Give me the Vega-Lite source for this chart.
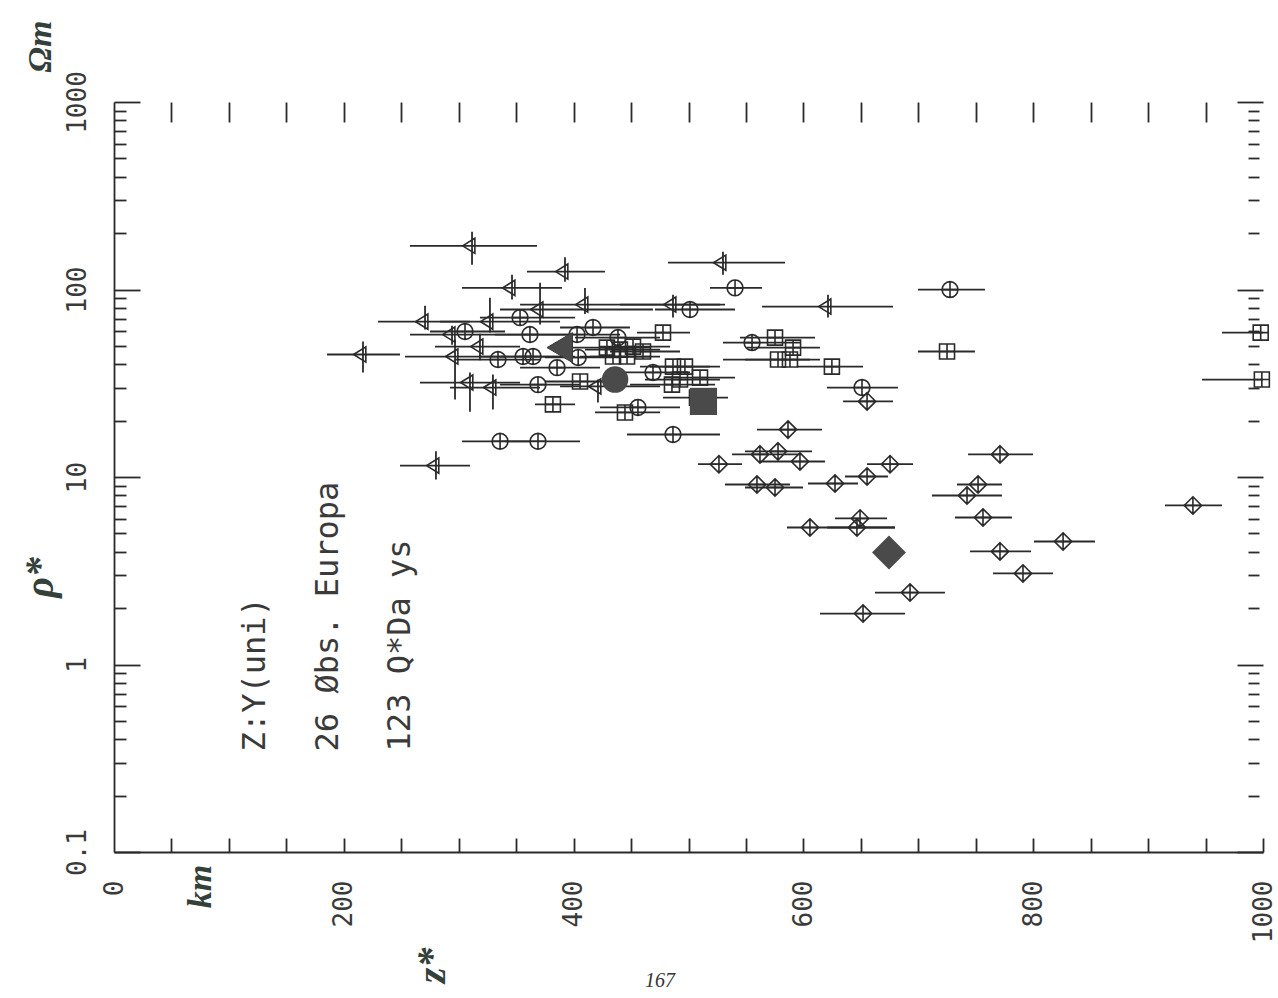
{
  "$schema": "https://vega.github.io/schema/vega-lite/v6.json",
  "width": 1149,
  "height": 750,
  "autosize": {"type": "none"},
  "padding": {"left": 114, "top": 102, "right": 15, "bottom": 146},
  "background": "white",
  "config": {
    "view": {"stroke": null},
    "axis": {
      "grid": false,
      "labelFont": "DejaVu Sans Mono",
      "labelFontSize": 26,
      "labelColor": "#3a3a3a",
      "labelFlush": false,
      "labelOverlap": false,
      "labelBound": false,
      "domainColor": "#2a2a2a",
      "domainWidth": 1.8,
      "tickColor": "#2a2a2a",
      "tickWidth": 1.8,
      "titleFont": "Liberation Serif",
      "titleFontStyle": "italic",
      "titleFontWeight": "bold",
      "titleColor": "#34403a"
    }
  },
  "datasets": {
    "pts": [
      {"type": "T", "z": 311.6, "rho": 171, "zlo": 257.6, "zhi": 368.1, "rlo": 135.7, "rhi": 203.5},
      {"type": "T", "z": 392.5, "rho": 124.6, "zlo": 359.4, "zhi": 427.3, "rlo": 110, "rhi": 148.5},
      {"type": "T", "z": 530, "rho": 139, "zlo": 482.2, "zhi": 584, "rlo": 120, "rhi": 159},
      {"type": "T", "z": 346.4, "rho": 102, "zlo": 302.9, "zhi": 389.9, "rlo": 88.5, "rhi": 120},
      {"type": "T", "z": 370.8, "rho": 78.2, "zlo": 335.9, "zhi": 469.1, "rlo": 65, "rhi": 108.8},
      {"type": "T", "z": 409.9, "rho": 83.1, "zlo": 353.4, "zhi": 531.8, "rlo": 74, "rhi": 102},
      {"type": "T", "z": 486.5, "rho": 83.1, "zlo": 440.4, "zhi": 527.4, "rlo": 70.8, "rhi": 93.9},
      {"type": "T", "z": 621.4, "rho": 81.1, "zlo": 564, "zhi": 678, "rlo": 70.8, "rhi": 93.9},
      {"type": "T", "z": 270.7, "rho": 67.4, "zlo": 229.8, "zhi": 309.8, "rlo": 61.1, "rhi": 82},
      {"type": "T", "z": 216.7, "rho": 45, "zlo": 185.4, "zhi": 248.9, "rlo": 36.1, "rhi": 52.8},
      {"type": "T", "z": 280.2, "rho": 11.5, "zlo": 248.9, "zhi": 309.8, "rlo": 9.7, "rhi": 13.7},
      {"type": "T", "z": 327.2, "rho": 67.4, "zlo": 283.7, "zhi": 388.2, "rlo": 58.9, "rhi": 90.5},
      {"type": "T", "z": 294.2, "rho": 57.5, "zlo": 257.6, "zhi": 370.8, "rlo": 50.8, "rhi": 64},
      {"type": "T", "z": 296.8, "rho": 43.9, "zlo": 253.3, "zhi": 340.3, "rlo": 25.9, "rhi": 54.1},
      {"type": "T", "z": 318.5, "rho": 49.6, "zlo": 279.4, "zhi": 353.4, "rlo": 42, "rhi": 58},
      {"type": "T", "z": 309.8, "rho": 31.9, "zlo": 266.3, "zhi": 353.4, "rlo": 22.3, "rhi": 36.1},
      {"type": "T", "z": 329.8, "rho": 30, "zlo": 292.4, "zhi": 370.8, "rlo": 22.9, "rhi": 35.2},
      {"type": "T", "z": 421.2, "rho": 30.4, "zlo": 388.2, "zhi": 475.2, "rlo": 25, "rhi": 33.1},
      {"type": "C", "z": 540.5, "rho": 102, "zlo": 518.7, "zhi": 564},
      {"type": "C", "z": 501.3, "rho": 78.2, "zlo": 470.8, "zhi": 540.5},
      {"type": "C", "z": 727.6, "rho": 99.9, "zlo": 699.7, "zhi": 758},
      {"type": "C", "z": 353.4, "rho": 70.8, "zlo": 318.5, "zhi": 401.2},
      {"type": "C", "z": 305.5, "rho": 59.7, "zlo": 275, "zhi": 340.3},
      {"type": "C", "z": 362, "rho": 57.5, "zlo": 331.6, "zhi": 396.9},
      {"type": "C", "z": 416.9, "rho": 62.7, "zlo": 388.2, "zhi": 449.1},
      {"type": "C", "z": 403, "rho": 57.5, "zlo": 370.8, "zhi": 440.4},
      {"type": "C", "z": 438.6, "rho": 55.4, "zlo": 401.2, "zhi": 475.2},
      {"type": "C", "z": 555.3, "rho": 52.1, "zlo": 530, "zhi": 597},
      {"type": "C", "z": 356, "rho": 43.9, "zlo": 318.5, "zhi": 388.2},
      {"type": "C", "z": 364.7, "rho": 43.9, "zlo": 335.9, "zhi": 401.2},
      {"type": "C", "z": 334.2, "rho": 42.3, "zlo": 296.8, "zhi": 370.8},
      {"type": "C", "z": 385.6, "rho": 38.3, "zlo": 353.4, "zhi": 423},
      {"type": "C", "z": 404, "rho": 43.4, "zlo": 375.1, "zhi": 440.4},
      {"type": "C", "z": 469.1, "rho": 36.1, "zlo": 436, "zhi": 501.3},
      {"type": "C", "z": 369, "rho": 31.1, "zlo": 335.9, "zhi": 405.6},
      {"type": "C", "z": 456, "rho": 23.5, "zlo": 423, "zhi": 492.6},
      {"type": "C", "z": 486.5, "rho": 16.85, "zlo": 446.5, "zhi": 527.4},
      {"type": "C", "z": 336, "rho": 15.5, "zlo": 302.9, "zhi": 362},
      {"type": "C", "z": 369, "rho": 15.5, "zlo": 340.3, "zhi": 405.6},
      {"type": "C", "z": 651, "rho": 30, "zlo": 620.5, "zhi": 682.3},
      {"type": "S", "z": 477.8, "rho": 58.9, "zlo": 455.2, "zhi": 501.3},
      {"type": "S", "z": 575.3, "rho": 55.4, "zlo": 544.8, "zhi": 610.1},
      {"type": "S", "z": 591, "rho": 49, "zlo": 550.9, "zhi": 614.4},
      {"type": "S", "z": 577.9, "rho": 42.3, "zlo": 530, "zhi": 605.7},
      {"type": "S", "z": 588.3, "rho": 42.3, "zlo": 549.2, "zhi": 614.4},
      {"type": "S", "z": 624.8, "rho": 38.8, "zlo": 594.4, "zhi": 651.9},
      {"type": "S", "z": 725, "rho": 46.7, "zlo": 699.7, "zhi": 749.3},
      {"type": "S", "z": 998, "rho": 58.9, "zlo": 964.3, "zhi": 1032},
      {"type": "S", "z": 999, "rho": 33.1, "zlo": 946.9, "zhi": 1032},
      {"type": "S", "z": 429, "rho": 49, "zlo": 396.9, "zhi": 466.5},
      {"type": "S", "z": 440.3, "rho": 47.8, "zlo": 409.9, "zhi": 475.2},
      {"type": "S", "z": 451.7, "rho": 49.6, "zlo": 423, "zhi": 483.9},
      {"type": "S", "z": 460.4, "rho": 46.7, "zlo": 431.7, "zhi": 492.6},
      {"type": "S", "z": 434.3, "rho": 43.9, "zlo": 405.6, "zhi": 466.5},
      {"type": "S", "z": 446.5, "rho": 43.9, "zlo": 414.3, "zhi": 475.2},
      {"type": "S", "z": 486.5, "rho": 38.8, "zlo": 457.8, "zhi": 518.7},
      {"type": "S", "z": 496.9, "rho": 38.8, "zlo": 466.5, "zhi": 527.4},
      {"type": "S", "z": 492.6, "rho": 33.1, "zlo": 462.1, "zhi": 527.4},
      {"type": "S", "z": 510, "rho": 33.9, "zlo": 479.5, "zhi": 540.5},
      {"type": "S", "z": 485.6, "rho": 31.1, "zlo": 449.1, "zhi": 523.1},
      {"type": "S", "z": 405.6, "rho": 32.3, "zlo": 375.1, "zhi": 436},
      {"type": "S", "z": 382, "rho": 24.4, "zlo": 366.4, "zhi": 401.2},
      {"type": "S", "z": 444.7, "rho": 22.1, "zlo": 418.6, "zhi": 475.2},
      {"type": "S", "z": 507.4, "rho": 26.5, "zlo": 477.8, "zhi": 534.4},
      {"type": "D", "z": 586.6, "rho": 17.9, "zlo": 559.6, "zhi": 616.2},
      {"type": "D", "z": 562.2, "rho": 13.2, "zlo": 537.9, "zhi": 597},
      {"type": "D", "z": 577.9, "rho": 13.7, "zlo": 549.2, "zhi": 607.5},
      {"type": "D", "z": 597, "rho": 12.1, "zlo": 562.2, "zhi": 618.8},
      {"type": "D", "z": 526.5, "rho": 11.7, "zlo": 508.3, "zhi": 546.6},
      {"type": "D", "z": 559.6, "rho": 9.12, "zlo": 531.8, "zhi": 588.3},
      {"type": "D", "z": 575.3, "rho": 8.79, "zlo": 549.2, "zhi": 599.7},
      {"type": "D", "z": 627.5, "rho": 9.23, "zlo": 604, "zhi": 647.5},
      {"type": "D", "z": 655.4, "rho": 10.06, "zlo": 636.2, "zhi": 673.6},
      {"type": "D", "z": 675.4, "rho": 11.7, "zlo": 655.4, "zhi": 695.4},
      {"type": "D", "z": 655.4, "rho": 25.3, "zlo": 634.5, "zhi": 678},
      {"type": "D", "z": 771.1, "rho": 13.2, "zlo": 743.3, "zhi": 799.8},
      {"type": "D", "z": 752, "rho": 9.12, "zlo": 733.7, "zhi": 772.8},
      {"type": "D", "z": 742.4, "rho": 7.97, "zlo": 711.9, "zhi": 772.8},
      {"type": "D", "z": 756.3, "rho": 6.08, "zlo": 731.9, "zhi": 781.5},
      {"type": "D", "z": 605.7, "rho": 5.38, "zlo": 585.7, "zhi": 679.7},
      {"type": "D", "z": 649.3, "rho": 6.01, "zlo": 627.5, "zhi": 672.8},
      {"type": "D", "z": 646.6, "rho": 5.38, "zlo": 620.5, "zhi": 679.7},
      {"type": "D", "z": 771.1, "rho": 4.01, "zlo": 745, "zhi": 798.1},
      {"type": "D", "z": 826, "rho": 4.53, "zlo": 800.7, "zhi": 853.8},
      {"type": "D", "z": 791.1, "rho": 3.06, "zlo": 765, "zhi": 817.2},
      {"type": "D", "z": 692.8, "rho": 2.42, "zlo": 662.3, "zhi": 723.2},
      {"type": "D", "z": 651.9, "rho": 1.87, "zlo": 614.4, "zhi": 688.4},
      {"type": "D", "z": 939, "rho": 7.05, "zlo": 914.7, "zhi": 964.3},
      {"type": "FT", "z": 389.9, "rho": 49},
      {"type": "FC", "z": 436.1, "rho": 33.1},
      {"type": "FS", "z": 513, "rho": 25.3},
      {"type": "FD", "z": 674.5, "rho": 3.96}
    ],
    "notes": [
      {"label": "Z:Y(uni)", "z": 122.7, "rho": 0.344},
      {"label": "26 Øbs. Europa", "z": 186.2, "rho": 0.344},
      {"label": "123 Q*Da ys", "z": 248.9, "rho": 0.344}
    ],
    "page": [
      {"label": "167", "z": 475.2, "rho": 0.0205}
    ]
  },
  "layer": [
    {
      "data": {"name": "pts"},
      "transform": [{"filter": "isValid(datum.zlo)"}],
      "mark": {"type": "rule", "stroke": "#2a2a2a", "strokeWidth": 1.8, "clip": true},
      "encoding": {
        "x": {"field": "zlo", "type": "quantitative",
          "scale": {"domain": [0, 1000], "nice": false, "zero": false},
          "axis": {"orient": "bottom", "values": [0, 200, 400, 600, 800, 1000], "format": "d", "ticks": false, "domain": true, "labelAngle": 270, "labelAlign": "right", "labelBaseline": "middle", "labelPadding": 28, "title": null}},
        "x2": {"field": "zhi"},
        "y": {"field": "rho", "type": "quantitative",
          "scale": {"type": "log", "domain": [0.1, 1000], "nice": false},
          "axis": {"orient": "left", "values": [0.1, 1, 10, 100, 1000], "format": "~g", "ticks": false, "domain": true, "labelAngle": 270, "labelAlign": "center", "labelBaseline": "bottom", "labelPadding": 24,
            "title": "ρ*", "titleAngle": 270, "titleX": -74, "titleY": 475, "titleAlign": "center", "titleBaseline": "middle", "titleFontSize": 40}}
      }
    },
    {
      "data": {"name": "pts"},
      "transform": [{"filter": "isValid(datum.rlo)"}],
      "mark": {"type": "rule", "stroke": "#2a2a2a", "strokeWidth": 1.8},
      "encoding": {
        "x": {"field": "z", "type": "quantitative",
          "scale": {"domain": [0, 1000], "nice": false, "zero": false},
          "axis": {"orient": "bottom", "values": [50, 100, 150, 200, 250, 300, 350, 400, 450, 500, 550, 600, 650, 700, 750, 800, 850, 900, 950, 1000], "tickSize": -14, "labels": false, "domain": false,
            "title": "km", "titleAngle": 270, "titleX": 86, "titleY": 34, "titleAlign": "center", "titleBaseline": "middle", "titleFontSize": 34}},
        "y": {"field": "rlo", "type": "quantitative",
          "scale": {"type": "log", "domain": [0.1, 1000], "nice": false},
          "axis": {"orient": "left", "values": [0.1, 1, 10, 100, 1000], "tickSize": -26, "labels": false, "domain": false,
            "title": "Ωm", "titleAngle": 270, "titleX": -74, "titleY": -56, "titleAlign": "center", "titleBaseline": "middle", "titleFontSize": 34}},
        "y2": {"field": "rhi"}
      }
    },
    {
      "data": {"name": "pts"},
      "transform": [{"filter": "datum.type == 'C'"}],
      "mark": {"type": "point", "shape": "M1,0L0.924,0.383L0.707,0.707L0.383,0.924L0,1L-0.383,0.924L-0.707,0.707L-0.924,0.383L-1,0L-0.924,-0.383L-0.707,-0.707L-0.383,-0.924L0,-1L0.383,-0.924L0.707,-0.707L0.924,-0.383ZM-1,0L1,0M0,-1L0,1", "size": 250, "filled": false, "stroke": "#2a2a2a", "strokeWidth": 1.6, "opacity": 1},
      "encoding": {
        "x": {"field": "z", "type": "quantitative",
          "scale": {"domain": [0, 1000], "nice": false, "zero": false},
          "axis": {"orient": "top", "values": [50, 100, 150, 200, 250, 300, 350, 400, 450, 500, 550, 600, 650, 700, 750, 800, 850, 900, 950], "tickSize": -20, "labels": false, "domain": false,
            "title": "z*", "titleAngle": 270, "titleX": 318, "titleY": 863, "titleAlign": "center", "titleBaseline": "middle", "titleFontSize": 40}},
        "y": {"field": "rho", "type": "quantitative",
          "scale": {"type": "log", "domain": [0.1, 1000], "nice": false},
          "axis": {"orient": "left", "values": [0.2, 0.3, 0.4, 0.5, 0.6, 0.7, 0.8, 0.9, 2, 3, 4, 5, 6, 7, 8, 9, 20, 30, 40, 50, 60, 70, 80, 90, 200, 300, 400, 500, 600, 700, 800, 900], "tickSize": -12, "labels": false, "domain": false, "title": null}}
      }
    },
    {
      "data": {"name": "pts"},
      "transform": [{"filter": "datum.type == 'S'"}],
      "mark": {"type": "point", "shape": "M-1,-1L1,-1L1,1L-1,1ZM-1,0L1,0M0,-1L0,1", "size": 225, "filled": false, "stroke": "#2a2a2a", "strokeWidth": 1.6, "opacity": 1},
      "encoding": {
        "x": {"field": "z", "type": "quantitative", "scale": {"domain": [0, 1000], "nice": false, "zero": false}, "axis": null},
        "y": {"field": "rho", "type": "quantitative",
          "scale": {"type": "log", "domain": [0.1, 1000], "nice": false},
          "axis": {"orient": "right", "values": [0.1, 1, 10, 100, 1000], "tickSize": -26, "labels": false, "domain": false, "title": null}}
      }
    },
    {
      "data": {"name": "pts"},
      "transform": [{"filter": "datum.type == 'D'"}],
      "mark": {"type": "point", "shape": "M0,-1L1,0L0,1L-1,0ZM-1,0L1,0M0,-1L0,1", "size": 300, "filled": false, "stroke": "#2a2a2a", "strokeWidth": 1.6, "opacity": 1},
      "encoding": {
        "x": {"field": "z", "type": "quantitative", "scale": {"domain": [0, 1000], "nice": false, "zero": false}, "axis": null},
        "y": {"field": "rho", "type": "quantitative",
          "scale": {"type": "log", "domain": [0.1, 1000], "nice": false},
          "axis": {"orient": "right", "offset": -4, "values": [0.2, 0.3, 0.4, 0.5, 0.6, 0.7, 0.8, 0.9, 2, 3, 4, 5, 6, 7, 8, 9, 20, 30, 40, 50, 60, 70, 80, 90, 200, 300, 400, 500, 600, 700, 800, 900], "tickSize": -11, "labels": false, "domain": false, "title": null}}
      }
    },
    {
      "data": {"name": "pts"},
      "transform": [{"filter": "datum.type == 'T'"}],
      "mark": {"type": "point", "shape": "M-1,0L0.3,-0.8L0.3,0.8Z", "size": 360, "filled": false, "stroke": "#2a2a2a", "strokeWidth": 1.6, "opacity": 1},
      "encoding": {
        "x": {"field": "z", "type": "quantitative", "scale": {"domain": [0, 1000], "nice": false, "zero": false}, "axis": null},
        "y": {"field": "rho", "type": "quantitative", "scale": {"type": "log", "domain": [0.1, 1000], "nice": false}, "axis": null}
      }
    },
    {
      "data": {"name": "pts"},
      "transform": [{"filter": "datum.type == 'FT'"}],
      "mark": {"type": "point", "shape": "M-1,0L0.7,-1L0.7,1Z", "size": 900, "filled": true, "fill": "#4a4a4a", "stroke": "#3a3a3a", "strokeWidth": 1, "opacity": 1},
      "encoding": {
        "x": {"field": "z", "type": "quantitative", "scale": {"domain": [0, 1000], "nice": false, "zero": false}, "axis": null},
        "y": {"field": "rho", "type": "quantitative", "scale": {"type": "log", "domain": [0.1, 1000], "nice": false}, "axis": null}
      }
    },
    {
      "data": {"name": "pts"},
      "transform": [{"filter": "datum.type == 'FC'"}],
      "mark": {"type": "point", "shape": "circle", "size": 700, "filled": true, "fill": "#4a4a4a", "opacity": 1},
      "encoding": {
        "x": {"field": "z", "type": "quantitative", "scale": {"domain": [0, 1000], "nice": false, "zero": false}, "axis": null},
        "y": {"field": "rho", "type": "quantitative", "scale": {"type": "log", "domain": [0.1, 1000], "nice": false}, "axis": null}
      }
    },
    {
      "data": {"name": "pts"},
      "transform": [{"filter": "datum.type == 'FS'"}],
      "mark": {"type": "point", "shape": "square", "size": 740, "filled": true, "fill": "#4a4a4a", "opacity": 1},
      "encoding": {
        "x": {"field": "z", "type": "quantitative", "scale": {"domain": [0, 1000], "nice": false, "zero": false}, "axis": null},
        "y": {"field": "rho", "type": "quantitative", "scale": {"type": "log", "domain": [0.1, 1000], "nice": false}, "axis": null}
      }
    },
    {
      "data": {"name": "pts"},
      "transform": [{"filter": "datum.type == 'FD'"}],
      "mark": {"type": "point", "shape": "diamond", "size": 1150, "filled": true, "fill": "#4a4a4a", "opacity": 1},
      "encoding": {
        "x": {"field": "z", "type": "quantitative", "scale": {"domain": [0, 1000], "nice": false, "zero": false}, "axis": null},
        "y": {"field": "rho", "type": "quantitative", "scale": {"type": "log", "domain": [0.1, 1000], "nice": false}, "axis": null}
      }
    },
    {
      "data": {"name": "notes"},
      "mark": {"type": "text", "angle": 270, "align": "left", "baseline": "middle", "font": "DejaVu Sans Mono", "fontSize": 32, "fill": "#3a3a3a"},
      "encoding": {
        "x": {"field": "z", "type": "quantitative", "scale": {"domain": [0, 1000], "nice": false, "zero": false}, "axis": null},
        "y": {"field": "rho", "type": "quantitative", "scale": {"type": "log", "domain": [0.1, 1000], "nice": false}, "axis": null},
        "text": {"field": "label"}
      }
    },
    {
      "data": {"name": "page"},
      "mark": {"type": "text", "align": "center", "baseline": "middle", "font": "Liberation Serif", "fontStyle": "italic", "fontSize": 20, "fill": "#333333"},
      "encoding": {
        "x": {"field": "z", "type": "quantitative", "scale": {"domain": [0, 1000], "nice": false, "zero": false}, "axis": null},
        "y": {"field": "rho", "type": "quantitative", "scale": {"type": "log", "domain": [0.1, 1000], "nice": false}, "axis": null},
        "text": {"field": "label"}
      }
    }
  ],
  "resolve": {"axis": {"x": "independent", "y": "independent"}}
}
